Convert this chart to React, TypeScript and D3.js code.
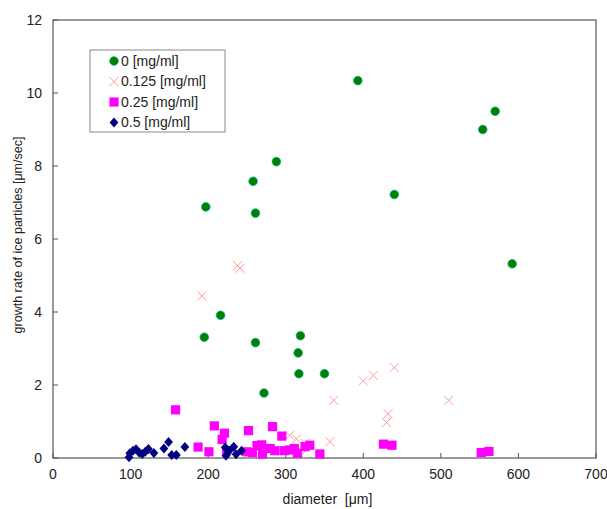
import * as d3 from 'd3';

type Pt = [number, number];

const xTicks = [0, 100, 200, 300, 400, 500, 600, 700];
const yTicks = [0, 2, 4, 6, 8, 10, 12];

const seriesNames = ['0 [mg/ml]', '0.125 [mg/ml]', '0.25 [mg/ml]', '0.5 [mg/ml]'];

// 0 mg/ml
const conc0: Pt[] = [
  [197, 6.88], [195, 3.31], [216, 3.91], [258, 7.58], [261, 6.71], [288, 8.12],
  [261, 3.16], [272, 1.78], [319, 3.35], [316, 2.88], [317, 2.31], [350, 2.31],
  [393, 10.34], [440, 7.22], [554, 9.0], [570, 9.5], [592, 5.32],
];
// 0.125 mg/ml
const conc0125: Pt[] = [
  [192, 4.44], [238, 5.27], [241, 5.2], [440, 2.48], [413, 2.26], [400, 2.11],
  [362, 1.58], [510, 1.58], [432, 1.21], [430, 0.97], [357, 0.45], [305, 0.62],
  [314, 0.52], [325, 0.4], [320, 0.08],
];
// 0.25 mg/ml
const conc025: Pt[] = [
  [158, 1.32], [208, 0.88], [221, 0.68], [218, 0.51], [187, 0.3], [201, 0.17],
  [252, 0.75], [283, 0.86], [263, 0.34], [269, 0.36], [280, 0.26], [270, 0.11],
  [224, 0.2], [250, 0.17], [257, 0.15], [286, 0.2], [295, 0.6], [298, 0.2],
  [305, 0.22], [311, 0.26], [315, 0.13], [325, 0.31], [331, 0.35], [344, 0.11],
  [426, 0.38], [437, 0.35], [552, 0.15], [562, 0.18],
];
// 0.5 mg/ml
const conc05: Pt[] = [
  [98, 0.02], [99, 0.13], [103, 0.2], [107, 0.24], [111, 0.15], [115, 0.11],
  [119, 0.17], [123, 0.25], [130, 0.14], [143, 0.26], [149, 0.44], [153, 0.08],
  [159, 0.08], [170, 0.3], [222, 0.29], [233, 0.31], [223, 0.06], [236, 0.1],
  [243, 0.2], [227, 0.2],
];

const W = 607;
const H = 509;
const m = { left: 53, right: 11, top: 20, bottom: 51 };
const font = 'Liberation Sans, Arial, sans-serif';

const x = d3.scaleLinear().domain([0, 700]).range([m.left, W - m.right]);
const y = d3.scaleLinear().domain([0, 12]).range([H - m.bottom, m.top]);

const Circle = ({ cx, cy }: { cx: number; cy: number }) => (
  <circle cx={cx} cy={cy} r={4.3} fill="#008000" stroke="#00b080" strokeWidth={0.8} />
);
const Cross = ({ cx, cy }: { cx: number; cy: number }) => (
  <path
    d={`M${cx - 4.5},${cy - 4.5}L${cx + 4.5},${cy + 4.5}M${cx - 4.5},${cy + 4.5}L${cx + 4.5},${cy - 4.5}`}
    stroke="#ff9a9a"
    strokeWidth={1}
    fill="none"
  />
);
const Square = ({ cx, cy }: { cx: number; cy: number }) => (
  <rect x={cx - 4.6} y={cy - 4.6} width={9.2} height={9.2} fill="#ff00ff" />
);
const Diamond = ({ cx, cy }: { cx: number; cy: number }) => (
  <path d={`M${cx},${cy - 5}L${cx + 4.4},${cy}L${cx},${cy + 5}L${cx - 4.4},${cy}Z`} fill="#000080" />
);

const markers = [Circle, Cross, Square, Diamond];
const allSeries = [conc0, conc0125, conc025, conc05];

export default function App() {
  const [x0, x1] = x.range();
  const [y0, y1] = y.range();
  return (
    <svg width={W} height={H} style={{ position: 'absolute', left: 0, top: 0, background: '#fff' }}>
      {/* frame */}
      <rect x={x0} y={y1} width={x1 - x0} height={y0 - y1} fill="none" stroke="#555" strokeWidth={1.2} />

      {yTicks.map((t) => (
        <g key={`y${t}`}>
          <line x1={x0} x2={x0 + 5} y1={y(t)} y2={y(t)} stroke="#555" />
          <text x={x0 - 11} y={y(t)} dy="0.35em" textAnchor="end" fontSize={14} fontFamily={font} fill="#222">
            {t}
          </text>
        </g>
      ))}
      {xTicks.map((t) => (
        <g key={`x${t}`}>
          <line x1={x(t)} x2={x(t)} y1={y0} y2={y0 - 5} stroke="#555" />
          <text x={x(t)} y={y0 + 21} textAnchor="middle" fontSize={14} fontFamily={font} fill="#222">
            {t}
          </text>
        </g>
      ))}

      <text x={(x0 + x1) / 2 + 3} y={504} textAnchor="middle" fontSize={14} fontFamily={font} fill="#222" style={{ whiteSpace: 'pre' }}>
        {'diameter  [μm]'}
      </text>
      <text
        transform={`translate(22,${(y0 + y1) / 2 - 4}) rotate(-90)`}
        textAnchor="middle"
        fontSize={12.5}
        fontFamily={font}
        fill="#222"
      >
        growth rate of ice particles [μm/sec]
      </text>

      {allSeries.map((s, i) => {
        const M = markers[i];
        return (
          <g key={`s${i}`}>
            {s.map(([dx, dy], j) => (
              <M key={j} cx={x(dx)} cy={y(dy)} />
            ))}
          </g>
        );
      })}

      {/* legend */}
      <rect x={90} y={50} width={135} height={82} fill="#fff" stroke="#888" />
      {seriesNames.map((name, i) => {
        const M = markers[i];
        const ly = 61 + i * 20.5;
        return (
          <g key={name}>
            <M cx={114} cy={ly} />
            <text x={121} y={ly} dy="0.35em" fontSize={14} fontFamily={font} fill="#222">
              {name}
            </text>
          </g>
        );
      })}
    </svg>
  );
}
